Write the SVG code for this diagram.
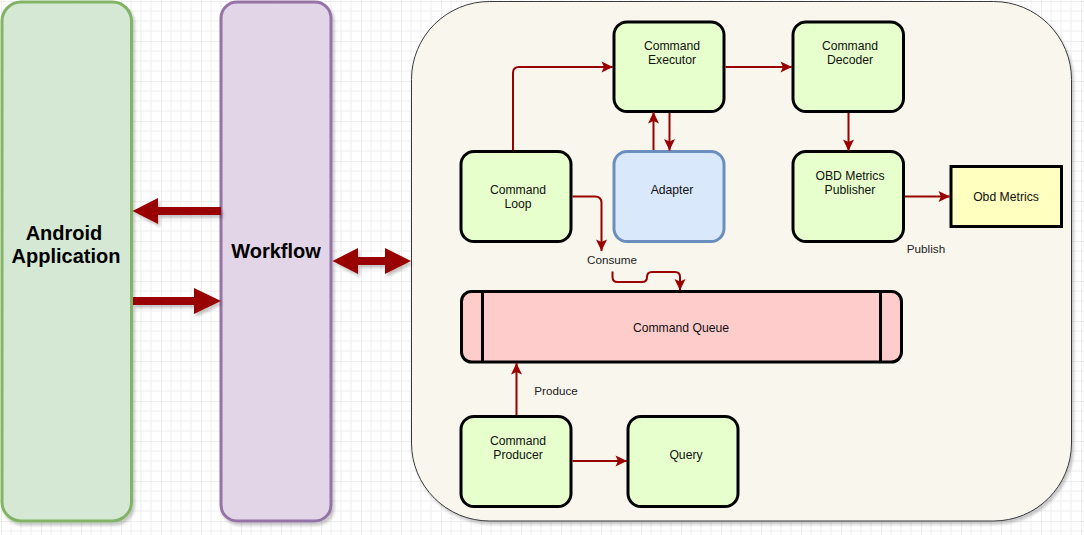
<svg xmlns="http://www.w3.org/2000/svg" width="1084" height="535" viewBox="0 0 1084 535">
<defs>
<style>
.node{fill:#e6ffcc;stroke:#000;stroke-width:3}
.t{font-family:"Liberation Sans",Arial,sans-serif;font-size:12.2px;fill:#111;text-anchor:middle}
.lbl{font-family:"Liberation Sans",Arial,sans-serif;font-size:11.7px;fill:#222;text-anchor:middle}
.big{font-family:"Liberation Sans",Arial,sans-serif;font-size:20px;font-weight:bold;fill:#000;text-anchor:middle}
.con{fill:none;stroke:#990000;stroke-width:2;marker-end:url(#ah)}
.fat{fill:#990000}
</style>
<pattern id="grid" x="1" y="1" width="40" height="40" patternUnits="userSpaceOnUse">
<path d="M10,0V40M20,0V40M30,0V40M0,10H40M0,20H40M0,30H40" stroke="#eeeeee" stroke-width="1" fill="none"/>
<path d="M0,0V40M0,0H40" stroke="#dedede" stroke-width="1" fill="none"/>
</pattern>
<filter id="sh" x="-10%" y="-10%" width="130%" height="130%">
<feDropShadow dx="2" dy="3" stdDeviation="1.5" flood-color="#000" flood-opacity="0.22"/>
</filter>
<marker id="ah" markerUnits="userSpaceOnUse" markerWidth="14" markerHeight="14" viewBox="0 0 14 14" refX="12.5" refY="7" orient="auto">
<path d="M1,1.5 L12.5,7 L1,12.5 L3.5,7 z" fill="#990000"/>
</marker>
</defs>
<rect width="1084" height="535" fill="#fff"/>
<rect width="1084" height="535" fill="url(#grid)"/>

<g id="android-application">
<rect x="2" y="2" width="129.5" height="519" rx="19" fill="#d5e8d4" stroke="#82b366" stroke-width="3" filter="url(#sh)"/>
<text class="big" x="64" y="240">Android</text>
<text class="big" x="66" y="263">Application</text>
</g>

<g id="workflow">
<rect x="221" y="2" width="110" height="519" rx="16" fill="#e1d5e7" stroke="#9673a6" stroke-width="3" filter="url(#sh)"/>
<text class="big" x="276" y="258">Workflow</text>
</g>

<g id="core-container">
<rect x="411.5" y="1.5" width="660" height="519.5" rx="78" fill="#f9f7ed" stroke="#36393d" stroke-width="1" filter="url(#sh)"/>
</g>

<g id="command-executor">
<rect class="node" x="614" y="22" width="110" height="89.5" rx="13"/>
<text class="t" x="672" y="50">Command</text>
<text class="t" x="672" y="64">Executor</text>
</g>

<g id="command-decoder">
<rect class="node" x="793" y="22" width="110.5" height="89.5" rx="13"/>
<text class="t" x="850" y="50">Command</text>
<text class="t" x="850" y="64">Decoder</text>
</g>

<g id="command-loop">
<rect class="node" x="461" y="151.5" width="110" height="90" rx="13"/>
<text class="t" x="518" y="194">Command</text>
<text class="t" x="518" y="208">Loop</text>
</g>

<g id="adapter">
<rect x="614" y="151.5" width="110" height="90" rx="13" fill="#dae8fc" stroke="#6c8ebf" stroke-width="3"/>
<text class="t" x="672" y="194">Adapter</text>
</g>

<g id="obd-metrics-publisher">
<rect class="node" x="793" y="151.5" width="110.5" height="90" rx="13"/>
<text class="t" x="850" y="180">OBD Metrics</text>
<text class="t" x="850" y="194">Publisher</text>
</g>

<g id="obd-metrics">
<rect x="951" y="166.5" width="110.5" height="60" fill="#ffffc0" stroke="#000" stroke-width="3"/>
<text class="t" x="1006" y="201">Obd Metrics</text>
</g>

<g id="command-queue">
<rect x="461.5" y="291.5" width="440" height="70.5" rx="10" fill="#ffcccc" stroke="#000" stroke-width="3"/>
<line x1="482.5" y1="291.5" x2="482.5" y2="362" stroke="#000" stroke-width="3"/>
<line x1="880.5" y1="291.5" x2="880.5" y2="362" stroke="#000" stroke-width="3"/>
<text class="t" x="681" y="332">Command Queue</text>
</g>

<g id="command-producer">
<rect class="node" x="461" y="416.5" width="110" height="90" rx="13"/>
<text class="t" x="518" y="445">Command</text>
<text class="t" x="518" y="459">Producer</text>
</g>

<g id="query">
<rect class="node" x="628" y="416.5" width="110" height="90" rx="13"/>
<text class="t" x="686" y="459">Query</text>
</g>

<g id="connectors">
<polygon class="fat" points="221,207 158,207 158,198 132.5,211 158,224 158,215 221,215" filter="url(#sh)"/>
<polygon class="fat" points="133,297 194,297 194,288 221,301 194,314 194,305 133,305" filter="url(#sh)"/>
<polygon class="fat" points="332.5,261 358,248 358,257 385,257 385,248 411,261 385,274 385,265 358,265 358,274" filter="url(#sh)"/>

<path class="con" d="M513,150 L513,73 Q513,67 519,67 L613,67"/>
<path class="con" d="M725.5,67 L792,67"/>
<path class="con" d="M653.5,150 L653.5,112"/>
<path class="con" d="M669.5,113 L669.5,150.5"/>
<path class="con" d="M848.5,113 L848.5,151"/>
<path class="con" d="M905,196.5 L950,196.5"/>
<path class="con" d="M572.5,196.5 L595,196.5 Q601.5,196.5 601.5,203 L601.5,251"/>
<path class="con" d="M612.5,271.5 L612.5,277 Q612.5,282 617.5,282 L642,282 Q647,282 647,277 Q647,272 652,272 L675,272 Q680,272 680,277 L680,290.5"/>
<path class="con" d="M516.5,415 L516.5,363"/>
<path class="con" d="M572.5,461 L627,461"/>

<text class="lbl" x="612" y="264">Consume</text>
<text class="lbl" x="926" y="253">Publish</text>
<text class="lbl" x="556" y="395">Produce</text>
</g>
</svg>
